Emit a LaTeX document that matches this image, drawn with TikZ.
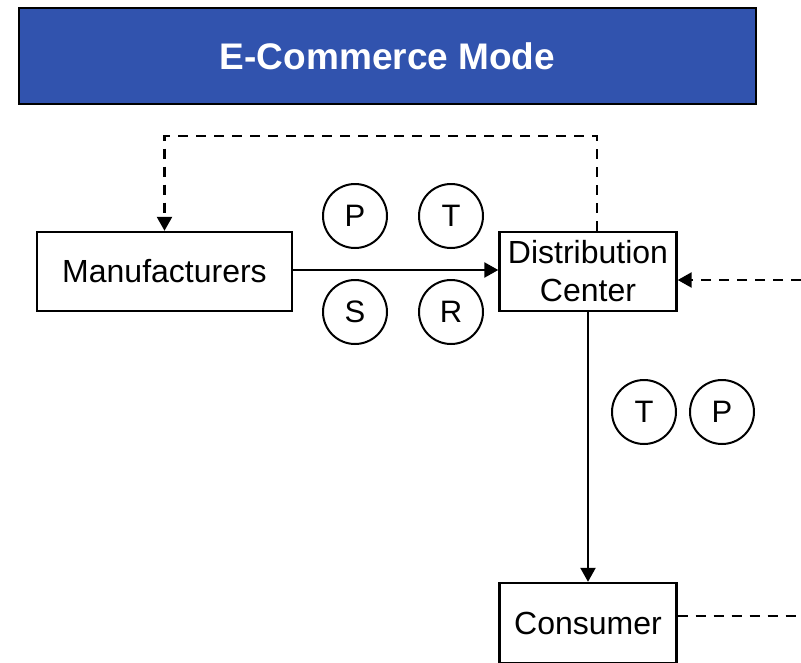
\documentclass[tikz,border=0pt]{standalone}
\usepackage{fontspec}
\setmainfont{Liberation Sans}
\usetikzlibrary{arrows.meta}
\definecolor{titleblue}{RGB}{49,83,174}
\tikzset{
  box/.style={draw=black, line width=2.4pt, fill=white, minimum width=177pt, minimum height=79pt,
    inner sep=0pt, align=center, font=\fontsize{32}{38}\selectfont},
  tag/.style={draw=black, line width=2pt, circle, minimum size=64pt, inner sep=0pt,
    font=\fontsize{31}{36}\selectfont},
  flow/.style={line width=2.4pt, -{Triangle[length=14pt, width=15pt]}},
  fb/.style={line width=2.4pt, dash pattern=on 10pt off 8pt},
  fbarrow/.style={fb, -{Triangle[length=14pt, width=15pt]}}
}
\begin{document}
\begin{tikzpicture}[x=1pt, y=-1pt]
  \useasboundingbox (0,0) rectangle (801,662);
  \clip (0,0) rectangle (801,662);

  % title banner
  \node[draw=black, line width=2.5pt, fill=titleblue, minimum width=737pt, minimum height=96pt,
        inner sep=0pt, text=white, font=\fontsize{37}{42}\selectfont\bfseries]
        (title) at (387.5,56) {E-Commerce Mode};

  % supply chain stations
  \node[box, minimum width=255pt] (mf) at (164.5,271.5) {Manufacturers};
  \node[box] (dc) at (588,271.5) {Distribution\\Center};
  \node[box, minimum height=80pt] (con) at (588,623) {Consumer};

  % flow labels between manufacturers and distribution center
  \node[tag] (p1) at (355,216) {P};
  \node[tag] (t1) at (451,216) {T};
  \node[tag] (s1) at (355,312) {S};
  \node[tag] (r1) at (451,312) {R};

  % flow labels between distribution center and consumer
  \node[tag] (t2) at (644,412) {T};
  \node[tag] (p2) at (722,412) {P};

  % forward flows
  \draw[flow] (mf.east |- 0,270) -- (dc.west |- 0,270);
  \draw[flow] (dc.south) -- (con.north);

  % feedback flows
  \coordinate (loop) at (0,136);
  \coordinate (rin) at (801,280);
  \coordinate (rout) at (801,616);
  \draw[fbarrow] ([xshift=9pt]dc.north) |- (loop -| mf.north) -- (mf.north);
  \draw[fbarrow] (rin) -- (dc.east |- rin);
  \draw[fb] (con.east |- rout) -- (rout);
\end{tikzpicture}
\end{document}
